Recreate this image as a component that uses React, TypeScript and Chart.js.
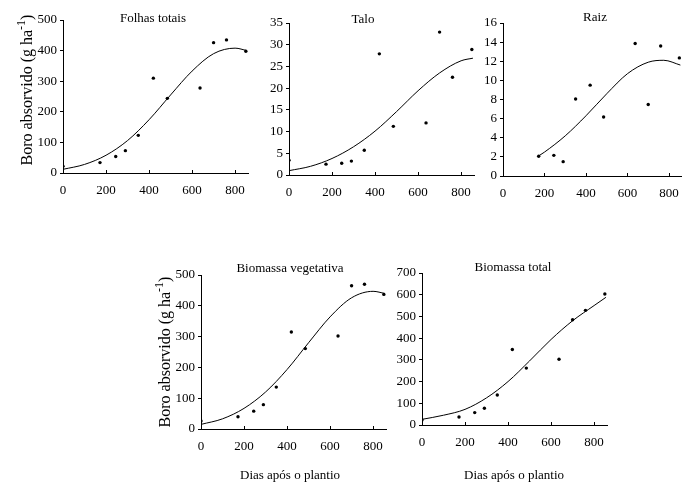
import { useEffect, useRef } from "react";
import { Chart, registerables } from "chart.js";
Chart.register(...registerables);

// ---- data ----
const days = [0, 172, 245, 290, 350, 420, 485, 637, 700, 760, 850];
const raizDays = [172, 245, 290, 350, 420, 485, 637, 700, 760, 850];
const folhas = [22, 34, 54, 73, 123, 310, 244, 278, 426, 435, 398];
const talo = [3.4, 2.5, 2.7, 3.2, 5.7, 27.9, 11.2, 12.0, 32.9, 22.5, 28.9];
const raiz = [2.06, 2.16, 1.5, 8.05, 9.5, 6.17, 13.85, 7.47, 13.6, 12.35];
const vegetativa = [26, 40, 58, 79, 136, 315, 261, 302, 465, 470, 437];
const total = [23, 37, 57, 77, 138, 348, 262, 303, 485, 528, 603];

// fitted curves
const fitDays = [0, 100, 200, 300, 400, 500, 600, 700, 800, 855];
const folhasFit = [12, 28, 58, 106, 174, 255, 333, 390, 408, 400];
const taloFit = [1.0, 2.0, 3.8, 6.5, 10.1, 14.6, 19.4, 23.5, 26.3, 26.9];
const vegetativaFit = [15, 33, 67, 120, 193, 280, 364, 426, 447, 440];
const totalFit = [26, 45, 72, 125, 200, 295, 394, 480, 550, 588];
const raizFitDays = [172, 200, 300, 400, 500, 600, 700, 775, 855];
const raizFit = [2.1, 2.5, 4.2, 6.3, 8.6, 10.7, 11.9, 12.1, 11.6];

const titles = ["Folhas totais", "Talo", "Raiz", "Biomassa vegetativa", "Biomassa total"];
const yTitleMain = "Boro absorvido (g ha";
const yTitleSup = "-1";
const yTitleEnd = ")";
const xTitle = "Dias após o plantio";

const FONT = "'Liberation Serif', 'Times New Roman', serif";

type Spec = {
  title: string;
  xs: number[];
  ys: number[];
  fx: number[];
  fy: number[];
  yMax: number;
  yStep: number;
  canvas: { x: number; y: number; w: number; h: number };
  area: { l: number; t: number; r: number; b: number };
  titlePos: { x: number; y: number };
  yTitlePos?: { x: number; y: number };
  xTitlePos?: { x: number; y: number };
};

const specs: Spec[] = [
  {
    title: titles[0], xs: days, ys: folhas, fx: fitDays, fy: folhasFit, yMax: 500, yStep: 100,
    canvas: { x: 0, y: 0, w: 262, h: 210 }, area: { l: 63, t: 20, r: 248, b: 173 },
    titlePos: { x: 153, y: 22 }, yTitlePos: { x: 32, y: 90 },
  },
  {
    title: titles[1], xs: days, ys: talo, fx: fitDays, fy: taloFit, yMax: 35, yStep: 5,
    canvas: { x: 250, y: 0, w: 235, h: 210 }, area: { l: 289, t: 23, r: 474, b: 175 },
    titlePos: { x: 363, y: 23 },
  },
  {
    title: titles[2], xs: raizDays, ys: raiz, fx: raizFitDays, fy: raizFit, yMax: 16, yStep: 2,
    canvas: { x: 470, y: 0, w: 219, h: 210 }, area: { l: 503, t: 23, r: 688, b: 176 },
    titlePos: { x: 595, y: 21 },
  },
  {
    title: titles[3], xs: days, ys: vegetativa, fx: fitDays, fy: vegetativaFit, yMax: 500, yStep: 100,
    canvas: { x: 140, y: 250, w: 260, h: 242 }, area: { l: 201, t: 275, r: 386, b: 429 },
    titlePos: { x: 290, y: 272 }, yTitlePos: { x: 170, y: 352 }, xTitlePos: { x: 290, y: 479 },
  },
  {
    title: titles[4], xs: days, ys: total, fx: fitDays, fy: totalFit, yMax: 700, yStep: 100,
    canvas: { x: 390, y: 250, w: 240, h: 242 }, area: { l: 422, t: 273, r: 607, b: 425 },
    titlePos: { x: 513, y: 271 }, xTitlePos: { x: 514, y: 479 },
  },
];

function Panel({ spec }: { spec: Spec }) {
  const ref = useRef<HTMLCanvasElement>(null);
  useEffect(() => {
    const c = ref.current!;
    const cv = spec.canvas;
    const a = spec.area;
    const textPlugin = {
      id: "texts",
      afterDraw(chart: any) {
        const ctx = chart.ctx as CanvasRenderingContext2D;
        ctx.save();
        ctx.fillStyle = "#000";
        // inner x tick marks
        const xs = chart.scales.x;
        const bottom = chart.chartArea.bottom;
        ctx.strokeStyle = "#000";
        ctx.lineWidth = 1;
        xs.ticks.forEach((t: any) => {
          const px = Math.round(xs.getPixelForValue(t.value)) + 0.5;
          ctx.beginPath();
          ctx.moveTo(px, bottom);
          ctx.lineTo(px, bottom - 3);
          ctx.stroke();
        });
        // title
        ctx.font = `13px ${FONT}`;
        ctx.textAlign = "center";
        ctx.textBaseline = "alphabetic";
        ctx.fillText(spec.title, spec.titlePos.x - cv.x, spec.titlePos.y - cv.y);
        if (spec.xTitlePos) {
          ctx.fillText(xTitle, spec.xTitlePos.x - cv.x, spec.xTitlePos.y - cv.y);
        }
        if (spec.yTitlePos) {
          ctx.translate(spec.yTitlePos.x - cv.x, spec.yTitlePos.y - cv.y);
          ctx.rotate(-Math.PI / 2);
          ctx.textAlign = "left";
          ctx.font = `16px ${FONT}`;
          const w1 = ctx.measureText(yTitleMain).width;
          const w3 = ctx.measureText(yTitleEnd).width;
          ctx.font = `12px ${FONT}`;
          const w2 = ctx.measureText(yTitleSup).width;
          let px = -(w1 + w2 + w3) / 2;
          ctx.font = `16px ${FONT}`;
          ctx.fillText(yTitleMain, px, 0);
          px += w1;
          ctx.font = `12px ${FONT}`;
          ctx.fillText(yTitleSup, px, -7);
          px += w2;
          ctx.font = `16px ${FONT}`;
          ctx.fillText(yTitleEnd, px, 0);
        }
        ctx.restore();
      },
    };
    const chart = new Chart(c, {
      type: "scatter",
      data: {
        datasets: [
          {
            type: "line",
            data: spec.fx.map((x, i) => ({ x, y: spec.fy[i] })),
            borderColor: "#000",
            borderWidth: 1,
            pointRadius: 0,
            cubicInterpolationMode: "monotone",
            fill: false,
          } as any,
          {
            type: "scatter",
            data: spec.xs.map((x, i) => ({ x, y: spec.ys[i] })),
            backgroundColor: "#000",
            borderWidth: 0,
            pointRadius: 1.7,
          },
        ],
      },
      options: {
        responsive: false,
        maintainAspectRatio: false,
        animation: false,
        layout: {
          padding: { left: 0, top: a.t - cv.y, right: cv.x + cv.w - a.r, bottom: 0 },
        },
        plugins: { legend: { display: false }, tooltip: { enabled: false }, title: { display: false } },
        scales: {
          x: {
            type: "linear",
            min: 0,
            max: 860,
            afterFit: (s: any) => {
              s.height = cv.y + cv.h - a.b;
            },
            ticks: {
              stepSize: 200,
              includeBounds: false,
              color: "#000",
              padding: 10,
              maxRotation: 0,
              font: { family: FONT, size: 13 },
            },
            grid: { display: false, drawTicks: false },
            border: { display: true, color: "#000", width: 1 },
          },
          y: {
            type: "linear",
            min: 0,
            max: spec.yMax,
            afterFit: (s: any) => {
              s.width = a.l - cv.x;
            },
            ticks: {
              stepSize: spec.yStep,
              color: "#000",
              padding: 3,
              font: { family: FONT, size: 13 },
            },
            grid: { drawOnChartArea: false, drawTicks: true, tickLength: 3, color: "#000" },
            border: { display: true, color: "#000", width: 1 },
          },
        },
      },
      plugins: [textPlugin],
    });
    return () => chart.destroy();
  }, []);
  const cv = spec.canvas;
  return (
    <canvas
      ref={ref}
      width={cv.w}
      height={cv.h}
      style={{ position: "absolute", left: cv.x, top: cv.y, width: cv.w, height: cv.h }}
    />
  );
}

export default function App() {
  return (
    <div style={{ position: "absolute", left: 0, top: 0, width: 689, height: 492, background: "#fff", overflow: "hidden" }}>
      {specs.map((s, i) => (
        <Panel key={i} spec={s} />
      ))}
    </div>
  );
}
